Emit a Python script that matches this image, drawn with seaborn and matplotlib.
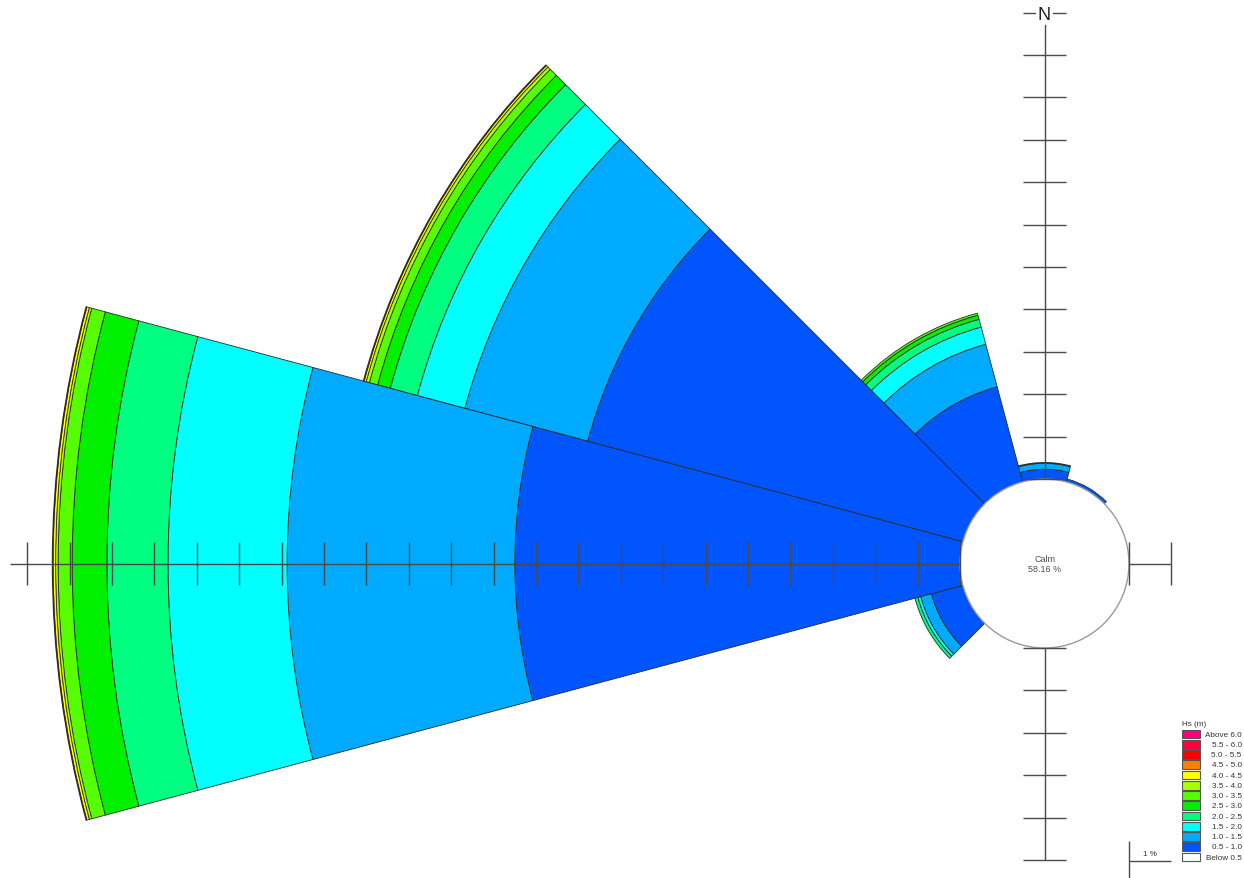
import numpy as np
import matplotlib
matplotlib.use('Agg')
import matplotlib.pyplot as plt
from matplotlib.patches import Circle
import seaborn as sns

# wave rose data: % occurrence per direction (bearing, deg) and Hs class
directions = [0, 30, 60, 90, 120, 150, 180, 210, 240, 270, 300, 330]
hs_labels = ["0.5 - 1.0", "1.0 - 1.5", "1.5 - 2.0", "2.0 - 2.5", "2.5 - 3.0", "3.0 - 3.5",
             "3.5 - 4.0", "4.0 - 4.5", "4.5 - 5.0", "5.0 - 5.5", "5.5 - 6.0", "Above 6.0"]
hs_colors = ["#0055FF", "#00AAFF", "#00FFFF", "#00FF80", "#00F000", "#55FF00",
             "#AAFF00", "#FFFF00", "#FF8000", "#FF0000", "#FF0040", "#FF0080"]
below_label = "Below 0.5"

freq_05_10 = [0.23, 0.07, 0, 0, 0, 0, 0, 0, 0.77, 10.50, 9.16, 2.32]
freq_10_15 = [0.14, 0, 0, 0, 0, 0, 0, 0, 0.26, 5.37, 3.00, 1.04]
freq_15_20 = [0.02, 0, 0, 0, 0, 0, 0, 0, 0.07, 2.81, 1.16, 0.42]
freq_20_25 = [0, 0, 0, 0, 0, 0, 0, 0, 0.07, 1.44, 0.66, 0.19]
freq_25_30 = [0, 0, 0, 0, 0, 0, 0, 0, 0, 0.82, 0.31, 0.10]
freq_30_35 = [0, 0, 0, 0, 0, 0, 0, 0, 0, 0.33, 0.20, 0.05]
freq_35_40 = [0, 0, 0, 0, 0, 0, 0, 0, 0, 0.06, 0.08, 0]
freq_40_45 = [0, 0, 0, 0, 0, 0, 0, 0, 0, 0.06, 0.05, 0]
freq_45_50 = [0, 0, 0, 0, 0, 0, 0, 0, 0, 0.02, 0.02, 0]
freq_50_55 = [0] * 12
freq_55_60 = [0] * 12
freq_above_60 = [0] * 12
calm_pct = 58.16

# axis arm lengths in % (ticks every 1 %)
arm_n, arm_e, arm_s, arm_w = 11, 1, 5, 22

sns.set_theme(style="white")
plt.rcParams['font.family'] = ['Liberation Sans', 'DejaVu Sans']

W, H = 1244, 879
px = 42.4            # pixels per 1 %
cx, cy = 1044.5, 314.5
calm_r = 84.5 / px
rmax = 25

freqs = np.array([freq_05_10, freq_10_15, freq_15_20, freq_20_25, freq_25_30, freq_30_35,
                  freq_35_40, freq_40_45, freq_45_50, freq_50_55, freq_55_60, freq_above_60])
pal = sns.color_palette(hs_colors)

fig = plt.figure(figsize=(W / 100, H / 100), dpi=100)

ax = fig.add_axes([(cx - rmax * px) / W, (cy - rmax * px) / H, 2 * rmax * px / W, 2 * rmax * px / H],
                  projection='polar')
ax.set_theta_zero_location('N')
ax.set_theta_direction(-1)
ax.set_ylim(0, rmax)
ax.set_axis_off()

theta = np.deg2rad(directions)
cum = np.zeros(len(directions))
for i in range(len(hs_labels)):
    vals = freqs[i]
    m = vals > 0
    if m.any():
        ax.bar(theta[m], vals[m], width=np.deg2rad(30), bottom=calm_r + cum[m],
               color=pal[i], edgecolor='#2a2a2a', linewidth=0.6, align='center')
    cum += vals

# overlay for calm circle and axis arms
ov = fig.add_axes([0, 0, 1, 1], facecolor='none')
ov.set_xlim(-cx / px, (W - cx) / px)
ov.set_ylim(-cy / px, (H - cy) / px)
ov.set_axis_off()

ov.add_patch(Circle((0, 0), calm_r, facecolor='white', edgecolor='#9a9a9a', linewidth=1.0, zorder=3))
ov.text(0, 0, "Calm\n%.2f %%" % calm_pct, ha='center', va='center', fontsize=6.5,
        color='#505050', linespacing=1.15, zorder=5)

line_kw = dict(color='#4a4a4a', linewidth=1.0, zorder=4, solid_capstyle='butt')
half = 0.5
for (ux, uy), n, extra in [((0, 1), arm_n, 0), ((1, 0), arm_e, 0), ((0, -1), arm_s, 0), ((-1, 0), arm_w, 0.4)]:
    r0, r1 = calm_r, calm_r + n + extra
    ov.plot([ux * r0, ux * r1], [uy * r0, uy * r1], **line_kw)
    for k in range(n + 1):
        r = calm_r + k
        ov.plot([ux * r - uy * half, ux * r + uy * half], [uy * r - ux * half, uy * r + ux * half], **line_kw)

ov.text(0, calm_r + arm_n - 0.05, "N", ha='center', va='center', fontsize=13, color='#222222', zorder=6,
        bbox=dict(facecolor='white', edgecolor='none', pad=1.5))

# 1 % scale bar
sy = -(calm_r + arm_s + 0.03)
ov.plot([calm_r, calm_r + 1], [sy, sy], **line_kw)
ov.plot([calm_r, calm_r], [sy + 0.48, -cy / px], **line_kw)
ov.text(calm_r + 0.5, sy + 0.1, "1 %", ha='center', va='bottom', fontsize=5.8, color='#333333')

# legend
leg = fig.add_axes([1182 / W, (H - 866) / H, (W - 1182) / W, (866 - 729.5) / H])
leg.set_xlim(0, W - 1182)
leg.set_ylim(12.78, -0.537)
leg.set_axis_off()
leg_labels = hs_labels[::-1] + [below_label]
leg_colors = list(pal)[::-1] + [(1, 1, 1)]
rows = np.arange(len(leg_labels))
leg.barh(rows, 18, left=0, height=0.84, color=leg_colors, edgecolor='#555555', linewidth=0.8)
for r, lab in zip(rows, leg_labels):
    leg.text(W - 1182 - 2.3, r, lab, ha='right', va='center', fontsize=5.9, color='#333333')
fig.text(1182 / W, (H - 725) / H, "Hs (m)", ha='left', va='center', fontsize=5.9, color='#333333')

fig.savefig('out.png', dpi=100)
